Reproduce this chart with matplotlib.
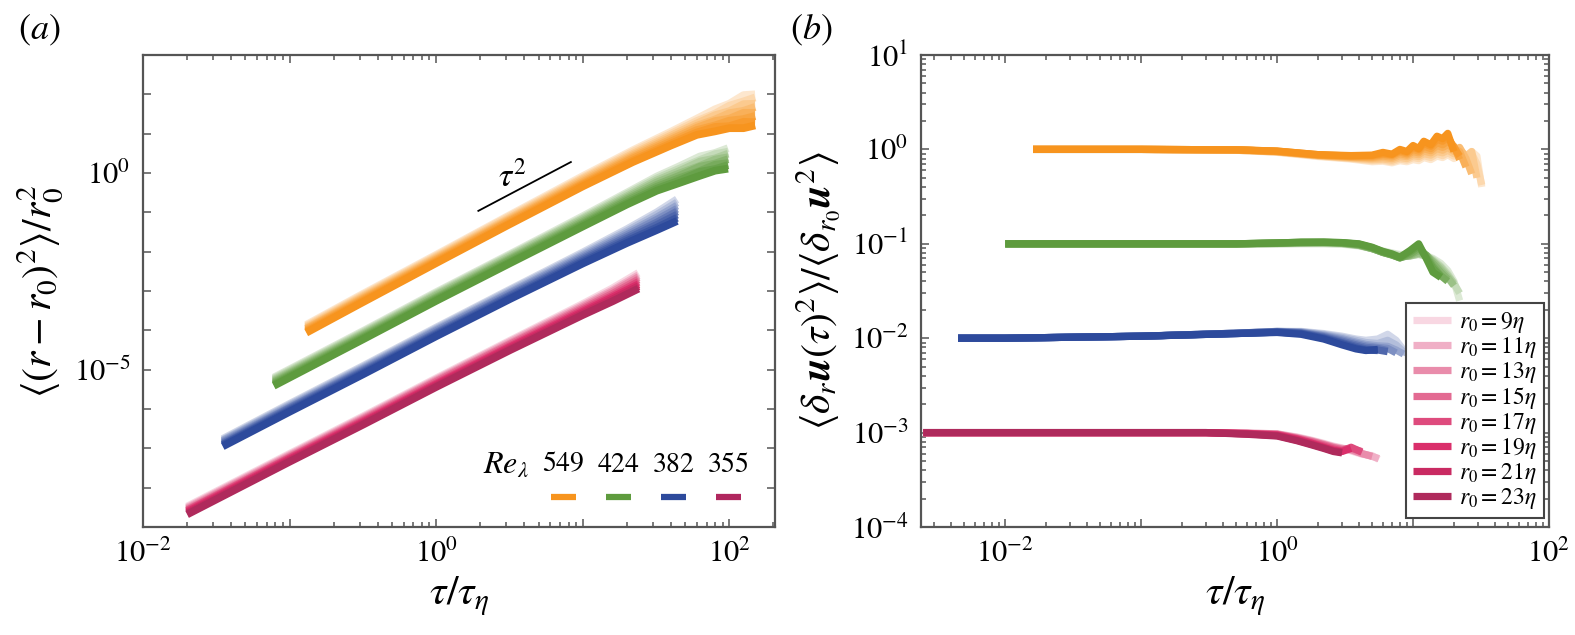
import numpy as np
import matplotlib
matplotlib.use('Agg')
import matplotlib.pyplot as plt
from matplotlib.ticker import LogLocator, NullLocator, NullFormatter
from matplotlib.lines import Line2D

plt.rcParams['font.family'] = ['Liberation Serif', 'DejaVu Serif']
plt.rcParams['mathtext.fontset'] = 'stix'

nan = np.nan

# ---------------- data ----------------
re_lambda = ['549', '424', '382', '355']
r0_eta = [9, 11, 13, 15, 17, 19, 21, 23]

# panel (a): tau/tau_eta and log10 <(r-r0)^2>/r0^2, rows = r0 = 9..23 eta
a_tau_549 = [0.13, 0.3, 1, 3, 10, 22, 40, 60, 80, 100, 125, 150]
a_log_549 = [
    [-3.86, -3.12, -2.08, -1.12, -0.08, 0.58, 1.05, 1.38, 1.62, 1.76, 1.98, 2.00],
    [-3.89, -3.15, -2.11, -1.15, -0.12, 0.54, 1.00, 1.32, 1.51, 1.71, 1.82, 1.92],
    [-3.92, -3.18, -2.14, -1.19, -0.15, 0.49, 0.95, 1.26, 1.47, 1.57, 1.75, 1.76],
    [-3.95, -3.21, -2.17, -1.22, -0.19, 0.45, 0.90, 1.20, 1.36, 1.52, 1.58, 1.68],
    [-3.97, -3.24, -2.20, -1.25, -0.23, 0.41, 0.85, 1.15, 1.32, 1.38, 1.53, 1.53],
    [-4.00, -3.27, -2.23, -1.28, -0.27, 0.37, 0.80, 1.09, 1.21, 1.33, 1.37, 1.45],
    [-4.03, -3.30, -2.26, -1.32, -0.30, 0.32, 0.75, 1.03, 1.17, 1.19, 1.30, 1.29],
    [-4.06, -3.33, -2.29, -1.35, -0.34, 0.28, 0.70, 0.97, 1.06, 1.14, 1.14, 1.21],
]
a_tau_424 = [0.078, 0.32, 1.0, 3.2, 10, 20, 32, 45, 63, 80, 98]
a_log_424 = [
    [-5.20, -4.01, -3.03, -2.06, -1.10, -0.50, -0.09, 0.16, 0.42, 0.51, 0.63],
    [-5.23, -4.04, -3.06, -2.09, -1.14, -0.54, -0.14, 0.10, 0.33, 0.48, 0.54],
    [-5.26, -4.07, -3.09, -2.12, -1.17, -0.59, -0.19, 0.04, 0.29, 0.37, 0.49],
    [-5.29, -4.10, -3.12, -2.16, -1.21, -0.63, -0.24, -0.02, 0.18, 0.34, 0.40],
    [-5.32, -4.13, -3.16, -2.19, -1.25, -0.67, -0.30, -0.08, 0.16, 0.24, 0.35],
    [-5.35, -4.16, -3.19, -2.22, -1.29, -0.71, -0.35, -0.14, 0.05, 0.21, 0.25],
    [-5.38, -4.19, -3.22, -2.26, -1.32, -0.76, -0.40, -0.20, 0.03, 0.10, 0.20],
    [-5.41, -4.22, -3.25, -2.29, -1.36, -0.80, -0.45, -0.26, -0.07, 0.06, 0.11],
]
a_tau_382 = [0.035, 0.1, 0.32, 1.0, 3.2, 10, 20, 32, 44]
a_log_382 = [
    [-6.76, -5.87, -4.90, -3.93, -2.96, -2.02, -1.43, -1.00, -0.67],
    [-6.79, -5.90, -4.93, -3.96, -2.99, -2.06, -1.48, -1.06, -0.75],
    [-6.81, -5.93, -4.96, -3.99, -3.03, -2.10, -1.53, -1.13, -0.83],
    [-6.84, -5.96, -4.99, -4.02, -3.06, -2.14, -1.58, -1.19, -0.91],
    [-6.87, -5.98, -5.02, -4.06, -3.10, -2.18, -1.63, -1.26, -0.98],
    [-6.90, -6.01, -5.05, -4.09, -3.13, -2.22, -1.68, -1.32, -1.06],
    [-6.92, -6.04, -5.08, -4.12, -3.17, -2.26, -1.73, -1.39, -1.14],
    [-6.95, -6.07, -5.11, -4.15, -3.20, -2.30, -1.78, -1.45, -1.22],
]
a_tau_355 = [0.02, 0.1, 0.32, 1.0, 3.2, 10, 16, 24]
a_log_355 = [
    [-8.48, -7.14, -6.18, -5.22, -4.26, -3.33, -2.93, -2.54],
    [-8.51, -7.17, -6.21, -5.25, -4.29, -3.37, -2.98, -2.60],
    [-8.54, -7.20, -6.24, -5.28, -4.33, -3.41, -3.02, -2.65],
    [-8.57, -7.23, -6.27, -5.31, -4.36, -3.45, -3.07, -2.71],
    [-8.59, -7.25, -6.30, -5.35, -4.40, -3.49, -3.12, -2.77],
    [-8.62, -7.28, -6.33, -5.38, -4.43, -3.53, -3.16, -2.83],
    [-8.65, -7.31, -6.36, -5.41, -4.47, -3.57, -3.21, -2.88],
    [-8.68, -7.34, -6.39, -5.44, -4.50, -3.61, -3.26, -2.94],
]
guide_tau = [1.94, 8.3]
guide_val = [0.109, 1.9]

# panel (b): tau/tau_eta and <d_r u(tau)^2>/<d_r0 u^2> (shifted by decades)
b_tau_549 = [0.016, 0.1, 0.5, 1.0, 2.0, 3.5, 5, 6, 7, 8, 9, 10, 11, 12, 13.5, 15, 16.5, 18, 20, 22, 24.5, 27, 29.5, 32]
b_val_549 = [
    [1, 1, 0.98, 0.93, 0.84, 0.79, 0.74, 0.75, 0.72, 0.76, 0.74, 0.78, 0.76, 0.82, 0.78, 0.85, 0.82, 0.88, 0.80, 0.90, 0.75, 0.95, 0.85, 0.40],
    [1, 1, 0.98, 0.94, 0.85, 0.80, 0.76, 0.77, 0.74, 0.79, 0.77, 0.82, 0.80, 0.86, 0.82, 0.90, 0.86, 0.92, 0.85, 0.95, 0.80, 0.90, 0.70, 0.42],
    [1, 1, 0.98, 0.94, 0.86, 0.81, 0.78, 0.79, 0.77, 0.82, 0.80, 0.86, 0.84, 0.90, 0.87, 0.95, 0.92, 0.98, 0.90, 1.00, 0.85, 0.95, 0.50, nan],
    [1, 1, 0.99, 0.95, 0.86, 0.82, 0.80, 0.82, 0.80, 0.86, 0.84, 0.90, 0.88, 0.96, 0.92, 1.02, 0.98, 1.05, 0.95, 1.05, 0.80, 0.55, nan, nan],
    [1, 1, 0.99, 0.95, 0.87, 0.83, 0.82, 0.85, 0.83, 0.90, 0.87, 0.95, 0.92, 1.02, 0.97, 1.10, 1.05, 1.12, 1.02, 0.95, 0.65, nan, nan, nan],
    [1, 1, 0.99, 0.95, 0.87, 0.84, 0.84, 0.88, 0.86, 0.94, 0.90, 1.00, 0.96, 1.08, 1.02, 1.18, 1.12, 1.22, 1.08, 0.78, nan, nan, nan, nan],
    [1, 1, 0.99, 0.96, 0.88, 0.85, 0.86, 0.90, 0.88, 0.97, 0.93, 1.05, 1.00, 1.15, 1.08, 1.28, 1.22, 1.35, 1.05, 0.85, nan, nan, nan, nan],
    [1, 1, 0.99, 0.96, 0.88, 0.86, 0.87, 0.93, 0.89, 1.00, 0.95, 1.10, 1.02, 1.22, 1.12, 1.38, 1.30, 1.48, 0.95, nan, nan, nan, nan, nan],
]
b_tau_424 = [0.01, 0.1, 0.5, 1.0, 1.5, 2.2, 3, 4, 5, 6, 7, 8, 9.5, 11, 12.5, 14, 16, 18, 20, 22]
b_val_424 = [
    [0.1, 0.1, 0.1, 0.100, 0.100, 0.100, 0.099, 0.095, 0.089, 0.084, 0.080, 0.077, 0.077, 0.078, 0.075, 0.070, 0.062, 0.052, 0.040, 0.025],
    [0.1, 0.1, 0.1, 0.100, 0.101, 0.101, 0.100, 0.096, 0.089, 0.083, 0.079, 0.075, 0.075, 0.077, 0.074, 0.068, 0.058, 0.048, 0.038, 0.030],
    [0.1, 0.1, 0.1, 0.101, 0.102, 0.102, 0.101, 0.096, 0.089, 0.082, 0.078, 0.073, 0.074, 0.078, 0.075, 0.066, 0.056, 0.046, 0.038, nan],
    [0.1, 0.1, 0.1, 0.101, 0.102, 0.103, 0.101, 0.097, 0.089, 0.081, 0.077, 0.072, 0.075, 0.080, 0.076, 0.065, 0.053, 0.044, 0.036, nan],
    [0.1, 0.1, 0.1, 0.101, 0.103, 0.103, 0.102, 0.097, 0.089, 0.081, 0.076, 0.071, 0.076, 0.085, 0.076, 0.062, 0.050, 0.042, nan, nan],
    [0.1, 0.1, 0.1, 0.102, 0.103, 0.104, 0.102, 0.098, 0.090, 0.081, 0.076, 0.071, 0.078, 0.090, 0.075, 0.058, 0.046, 0.040, nan, nan],
    [0.1, 0.1, 0.1, 0.102, 0.104, 0.104, 0.103, 0.099, 0.091, 0.082, 0.077, 0.071, 0.082, 0.095, 0.072, 0.055, 0.045, nan, nan, nan],
    [0.1, 0.1, 0.1, 0.102, 0.104, 0.104, 0.103, 0.100, 0.092, 0.083, 0.078, 0.072, 0.085, 0.100, 0.070, 0.050, 0.044, nan, nan, nan],
]
b_tau_382 = [0.0045, 0.01, 0.1, 0.5, 1.0, 1.5, 2.2, 3, 3.8, 4.5, 5.5, 6.5, 7.5, 8.5, 10]
b_val_382 = [
    [0.01, 0.01, 0.0105, 0.0113, 0.0118, 0.0118, 0.0112, 0.0105, 0.0098, 0.0095, 0.0098, 0.0110, 0.0095, 0.0075, 0.0068],
    [0.01, 0.01, 0.0105, 0.0113, 0.0118, 0.0117, 0.0110, 0.0102, 0.0095, 0.0090, 0.0088, 0.0095, 0.0085, 0.0072, 0.0065],
    [0.01, 0.01, 0.0105, 0.0113, 0.0118, 0.0116, 0.0108, 0.0099, 0.0091, 0.0086, 0.0083, 0.0082, 0.0075, 0.0068, nan],
    [0.01, 0.01, 0.0105, 0.0113, 0.0117, 0.0115, 0.0106, 0.0096, 0.0088, 0.0083, 0.0080, 0.0078, 0.0070, nan, nan],
    [0.01, 0.01, 0.0105, 0.0113, 0.0117, 0.0114, 0.0104, 0.0093, 0.0085, 0.0080, 0.0078, 0.0074, nan, nan, nan],
    [0.01, 0.01, 0.0105, 0.0112, 0.0116, 0.0113, 0.0102, 0.0090, 0.0082, 0.0077, 0.0075, 0.0072, nan, nan, nan],
    [0.01, 0.01, 0.0105, 0.0112, 0.0116, 0.0112, 0.0100, 0.0088, 0.0079, 0.0075, 0.0074, nan, nan, nan, nan],
    [0.01, 0.01, 0.0105, 0.0112, 0.0115, 0.0110, 0.0098, 0.0085, 0.0077, 0.0074, 0.0076, nan, nan, nan, nan],
]
b_tau_355 = [0.0025, 0.01, 0.1, 0.3, 0.6, 1.0, 1.4, 1.8, 2.2, 2.6, 3.0, 3.5, 4.2, 5.0, 5.6]
b_val_355 = [
    [0.001, 0.001, 0.001, 0.001, 0.00099, 0.00097, 0.00090, 0.00083, 0.00077, 0.00072, 0.00069, 0.00064, 0.00059, 0.00057, 0.00052],
    [0.001, 0.001, 0.001, 0.001, 0.00099, 0.00097, 0.00089, 0.00082, 0.00076, 0.00071, 0.00068, 0.00065, 0.00060, 0.00056, 0.00053],
    [0.001, 0.001, 0.001, 0.001, 0.00098, 0.00096, 0.00088, 0.00081, 0.00075, 0.00070, 0.00067, 0.00066, 0.00060, 0.00056, nan],
    [0.001, 0.001, 0.001, 0.001, 0.00098, 0.00096, 0.00087, 0.00080, 0.00074, 0.00069, 0.00066, 0.00068, 0.00063, nan, nan],
    [0.001, 0.001, 0.001, 0.001, 0.00098, 0.00095, 0.00086, 0.00078, 0.00072, 0.00067, 0.00064, 0.00070, 0.00062, nan, nan],
    [0.001, 0.001, 0.001, 0.001, 0.00097, 0.00094, 0.00085, 0.00077, 0.00070, 0.00065, 0.00063, 0.00068, nan, nan, nan],
    [0.001, 0.001, 0.001, 0.001, 0.00097, 0.00093, 0.00083, 0.00075, 0.00069, 0.00064, 0.00062, nan, nan, nan, nan],
    [0.001, 0.001, 0.001, 0.001, 0.00096, 0.00092, 0.00082, 0.00074, 0.00068, 0.00063, 0.00061, nan, nan, nan, nan],
]

# ---------------- style ----------------
base_colors = ['#F7941E', '#5E9B3E', '#2D4A9C', '#B0275E']
crimson_shades = ['#F8D7E2', '#F0AFC6', '#E98CAB', '#E36A92',
                  '#DE4B7D', '#DA2F6B', '#C92A62', '#AF2A5C']
blend = [0.22, 0.36, 0.50, 0.62, 0.74, 0.84, 0.93, 1.0]


def shades(hexcol):
    c = np.array(matplotlib.colors.to_rgb(hexcol))
    return [tuple(1 - f * (1 - c)) for f in blend]


group_shades = [shades(base_colors[0]), shades(base_colors[1]),
                shades(base_colors[2]), crimson_shades]

spine_col = '#555555'
LW_A = 5.6
LW_B = 5.2
TICK_FS = 22
LABEL_FS = 30

fig = plt.figure(figsize=(15.75, 6.35), dpi=100)
axa = fig.add_axes([143 / 1575, 108 / 635, 632 / 1575, 472 / 635])
axb = fig.add_axes([921 / 1575, 108 / 635, 628 / 1575, 472 / 635])


def style_axes(ax):
    for sp in ax.spines.values():
        sp.set_color(spine_col)
        sp.set_linewidth(1.6)
    ax.tick_params(which='both', direction='in', top=True, right=True,
                   color=spine_col, width=1.1, labelsize=TICK_FS, pad=9)
    ax.tick_params(which='major', length=6)
    ax.tick_params(which='minor', length=3.5)


# ---- panel (a)
a_taus = [a_tau_549, a_tau_424, a_tau_382, a_tau_355]
a_logs = [a_log_549, a_log_424, a_log_382, a_log_355]
for g in range(4):
    for k in range(len(r0_eta)):
        axa.plot(a_taus[g], 10.0 ** np.array(a_logs[g][k]), color=group_shades[g][k],
                 lw=LW_A, solid_capstyle='butt', solid_joinstyle='round')
axa.plot(guide_tau, guide_val, color='black', lw=1.3)
axa.text(3.3, 0.8, r'$\tau^2$', fontsize=24, ha='center', va='center')

axa.set_xscale('log')
axa.set_yscale('log')
axa.set_xlim(0.01, 205)
axa.set_ylim(1e-9, 1e3)
style_axes(axa)
axa.set_xticks([1e-2, 1e-1, 1e0, 1e1, 1e2])
axa.set_xticklabels([r'$10^{-2}$', '', r'$10^{0}$', '', r'$10^{2}$'])
axa.xaxis.set_minor_locator(LogLocator(base=10, subs=np.arange(2, 10), numticks=20))
axa.xaxis.set_minor_formatter(NullFormatter())
ydec = [10.0 ** e for e in range(-9, 4)]
axa.set_yticks(ydec)
axa.set_yticklabels([r'$10^{0}$' if e == 0 else (r'$10^{-5}$' if e == -5 else '')
                     for e in range(-9, 4)])
axa.yaxis.set_minor_locator(NullLocator())
axa.set_xlabel(r'$\tau/\tau_\eta$', fontsize=LABEL_FS, labelpad=4)
axa.set_ylabel(r'$\langle (r-r_0)^2\rangle/r_0^2$', fontsize=LABEL_FS, labelpad=6)

# Re_lambda key
axa.text(0.574, 0.131, r'$Re_\lambda$', transform=axa.transAxes, fontsize=23,
         ha='center', va='center')
key_x = [0.665, 0.752, 0.839, 0.926]
for g in range(4):
    axa.text(key_x[g], 0.131, r'$\mathrm{%s}$' % re_lambda[g], transform=axa.transAxes,
             fontsize=20, ha='center', va='center')
    axa.add_line(Line2D([key_x[g] - 0.02, key_x[g] + 0.02], [0.064, 0.064],
                        transform=axa.transAxes, color=base_colors[g], lw=4.5,
                        solid_capstyle='butt'))

# ---- panel (b)
b_taus = [b_tau_549, b_tau_424, b_tau_382, b_tau_355]
b_vals = [b_val_549, b_val_424, b_val_382, b_val_355]
for g in range(4):
    for k in range(len(r0_eta)):
        lab = r'$r_0 = %d\eta$' % r0_eta[k] if g == 3 else None
        axb.plot(b_taus[g], b_vals[g][k], color=group_shades[g][k], lw=LW_B,
                 solid_capstyle='butt', solid_joinstyle='round', label=lab)

axb.set_xscale('log')
axb.set_yscale('log')
axb.set_xlim(0.0024, 100)
axb.set_ylim(1e-4, 1e1)
style_axes(axb)
axb.set_xticks([1e-2, 1e-1, 1e0, 1e1, 1e2])
axb.set_xticklabels([r'$10^{-2}$', '', r'$10^{0}$', '', r'$10^{2}$'])
axb.xaxis.set_minor_locator(LogLocator(base=10, subs=np.arange(2, 10), numticks=20))
axb.xaxis.set_minor_formatter(NullFormatter())
axb.set_yticks([1e-4, 1e-3, 1e-2, 1e-1, 1e0, 1e1])
axb.set_yticklabels([r'$10^{-4}$', r'$10^{-3}$', r'$10^{-2}$', r'$10^{-1}$',
                     r'$10^{0}$', r'$10^{1}$'])
axb.yaxis.set_minor_locator(LogLocator(base=10, subs=np.arange(2, 10), numticks=20))
axb.yaxis.set_minor_formatter(NullFormatter())
axb.set_xlabel(r'$\tau/\tau_\eta$', fontsize=LABEL_FS, labelpad=4)
axb.set_ylabel(r'$\langle\delta_r \boldsymbol{u}(\tau)^2\rangle/\langle\delta_{r_0}\boldsymbol{u}^2\rangle$',
               fontsize=LABEL_FS, labelpad=6)
leg = axb.legend(loc='lower right', bbox_to_anchor=(0.992, 0.019), borderaxespad=0,
                 fontsize=17, handlelength=1.6, labelspacing=0.0, handletextpad=0.35,
                 borderpad=0.3, fancybox=False, framealpha=1, edgecolor='#444444')
leg.get_frame().set_linewidth(1.5)

fig.text(18 / 1575, 1 - 30 / 635, r'$(a)$', fontsize=26, ha='left', va='center')
fig.text(790 / 1575, 1 - 30 / 635, r'$(b)$', fontsize=26, ha='left', va='center')

fig.savefig('out.png', dpi=100)
